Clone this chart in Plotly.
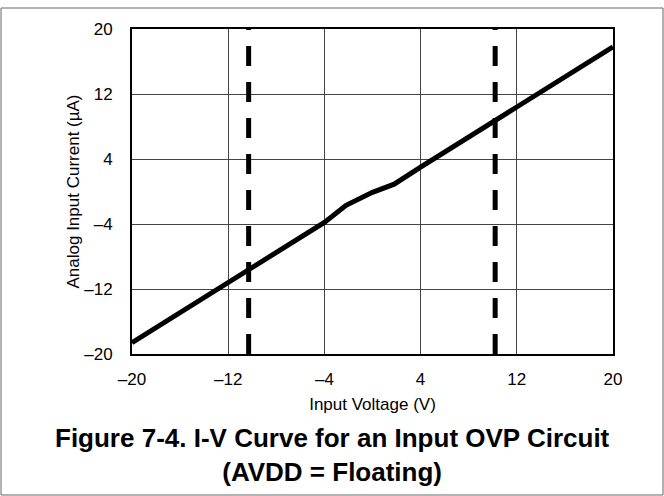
import plotly.graph_objects as go

# I-V characteristic of the input OVP circuit (AVDD floating)
voltage_v = [-20, -12, -4, -2.2, 0, 1.8, 4, 12, 20]
current_ua = [-18.6, -11.2, -3.8, -1.7, -0.1, 0.9, 3.0, 10.4, 17.8]

# Dashed markers for the OVP clamp boundaries
ovp_limits_v = [-10.3, 10.2]
ovp_span_ua = [-20, 20]

tick_vals = [-20, -12, -4, 4, 12, 20]
tick_text = ["–20", "–12", "–4", "4", "12", "20"]

FONT = "Liberation Sans, Arial, sans-serif"

fig = go.Figure()

for xv in ovp_limits_v:
    fig.add_trace(go.Scatter(
        x=[xv, xv], y=ovp_span_ua, mode="lines",
        line=dict(color="black", width=5, dash="20px,16px"),
        hoverinfo="skip", showlegend=False,
    ))

fig.add_trace(go.Scatter(
    x=voltage_v, y=current_ua, mode="lines",
    line=dict(color="black", width=5),
    showlegend=False,
))

axis_common = dict(
    range=[-20, 20], tickvals=tick_vals, ticktext=tick_text,
    showgrid=True, gridcolor="#444444", gridwidth=1,
    showline=True, linecolor="black", linewidth=2, mirror=True,
    ticks="", zeroline=False,
    tickfont=dict(family=FONT, size=17, color="black"),
)

fig.update_xaxes(**axis_common, ticklabelstandoff=9,
                 title=dict(text="Input Voltage (V)", standoff=10,
                            font=dict(family=FONT, size=17, color="black")))
fig.update_yaxes(**axis_common, ticklabelstandoff=14,
                 title=dict(text="Analog Input Current (µA)", standoff=0,
                            font=dict(family=FONT, size=17, color="black")))

fig.update_layout(
    width=664, height=496,
    margin=dict(l=132, r=51, t=29, b=142),
    paper_bgcolor="white", plot_bgcolor="white",
    font=dict(family=FONT, color="black"),
    shapes=[dict(type="rect", xref="paper", yref="paper",
                 x0=-0.2723, x1=1.104, y0=-0.4338, y1=1.0646,
                 line=dict(color="#666666", width=1), layer="below")],
    annotations=[dict(
        xref="paper", yref="paper", x=0.417, y=-0.311,
        xanchor="center", yanchor="middle", showarrow=False,
        text="<b>Figure 7-4. I-V Curve for an Input OVP Circuit<br>(AVDD = Floating)</b>",
        font=dict(family=FONT, size=26, color="black"),
    )],
)

fig.write_html("out.html")
